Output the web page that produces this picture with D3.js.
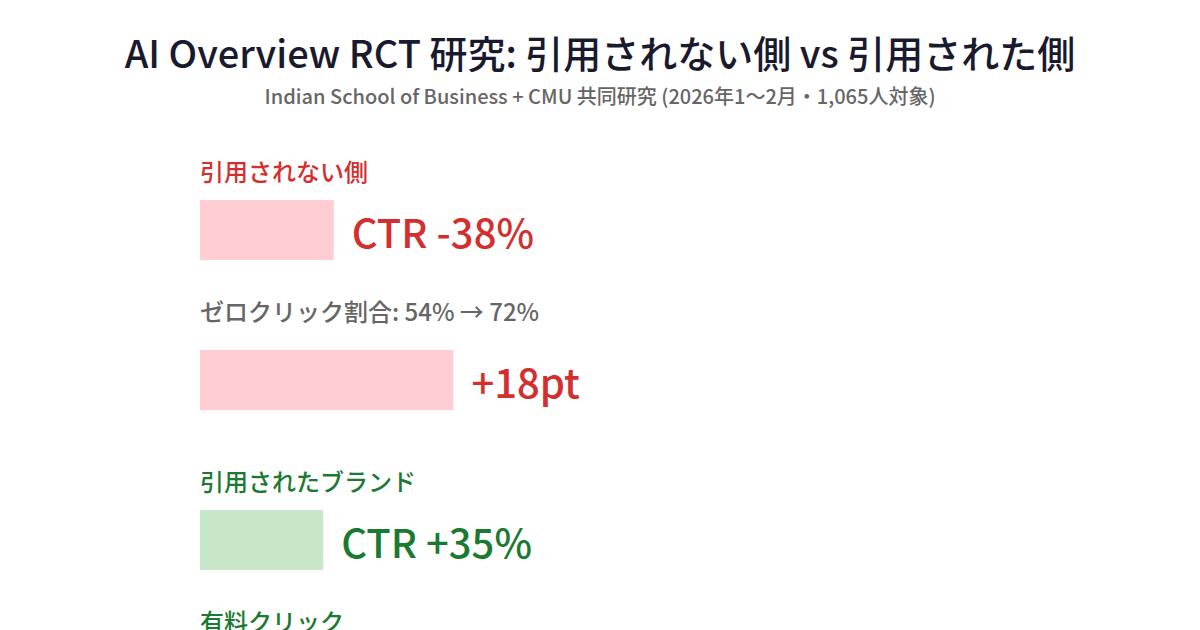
<!DOCTYPE html>
<html>
<head>
<meta charset="utf-8">
<script src="https://cdn.jsdelivr.net/npm/d3@7"></script>
<style>
  body { margin: 0; background: #fff; }
  svg { display: block; font-family: "Noto Sans CJK JP", "Noto Sans", sans-serif; }
</style>
</head>
<body>
<svg id="chart"></svg>
<script>
const title = "AI Overview RCT 研究: 引用されない側 vs 引用された側";
const subtitle = "Indian School of Business + CMU 共同研究 (2026年1〜2月・1,065人対象)";

const labels = ["引用されない側", "ゼロクリック割合: 54% → 72%", "引用されたブランド", "有料クリック"];
const kinds = ["head", "sub", "head", "sub"];
const groups = ["uncited", "uncited", "cited", "cited"];
const values = [38, 72, 35, null];
const valueLabels = ["CTR -38%", "+18pt", "CTR +35%", ""];

const width = 1200;
const height = 630;

const colors = {
  uncited: { text: "#d32f2f", bar: "#ffcdd2" },
  cited: { text: "#1b7a32", bar: "#c8e6c9" }
};

const svg = d3.select("#chart")
  .attr("width", width)
  .attr("height", height);

svg.append("text")
  .attr("x", width / 2)
  .attr("y", 68)
  .attr("text-anchor", "middle")
  .attr("font-size", 38)
  .attr("font-weight", 500)
  .attr("fill", "#1a1a2e")
  .text(title);

svg.append("text")
  .attr("x", width / 2)
  .attr("y", 104)
  .attr("text-anchor", "middle")
  .attr("font-size", 20)
  .attr("font-weight", 500)
  .attr("fill", "#666")
  .text(subtitle);

const x = d3.scaleLinear().domain([0, 100]).range([200, 552]);
const barH = 60;

// work out row positions: label baseline, then bar below it
const rows = [];
let cursor = 181;
labels.forEach((label, i) => {
  if (i > 0) cursor += (groups[i] !== groups[i - 1]) ? 81 : 61;
  const labelY = cursor;
  const barY = labelY + (kinds[i] === "head" ? 19 : 29);
  rows.push({ label, kind: kinds[i], group: groups[i], value: values[i], valueLabel: valueLabels[i], labelY, barY });
  cursor = barY + barH;
});

const row = svg.selectAll(".row")
  .data(rows)
  .enter()
  .append("g")
  .attr("class", "row");

row.append("text")
  .attr("x", x(0))
  .attr("y", d => d.labelY)
  .attr("font-size", 24)
  .attr("font-weight", 500)
  .attr("fill", d => d.kind === "sub" && d.group === "uncited" ? "#666" : colors[d.group].text)
  .text(d => d.label);

const bars = row.filter(d => d.value != null);

bars.append("rect")
  .attr("x", x(0))
  .attr("y", d => d.barY)
  .attr("width", d => x(d.value) - x(0))
  .attr("height", barH)
  .attr("fill", d => colors[d.group].bar);

bars.append("text")
  .attr("x", d => x(d.value) + 18)
  .attr("y", d => d.barY + 48)
  .attr("font-size", 40)
  .attr("font-weight", 500)
  .attr("fill", d => colors[d.group].text)
  .text(d => d.valueLabel);
</script>
</body>
</html>
